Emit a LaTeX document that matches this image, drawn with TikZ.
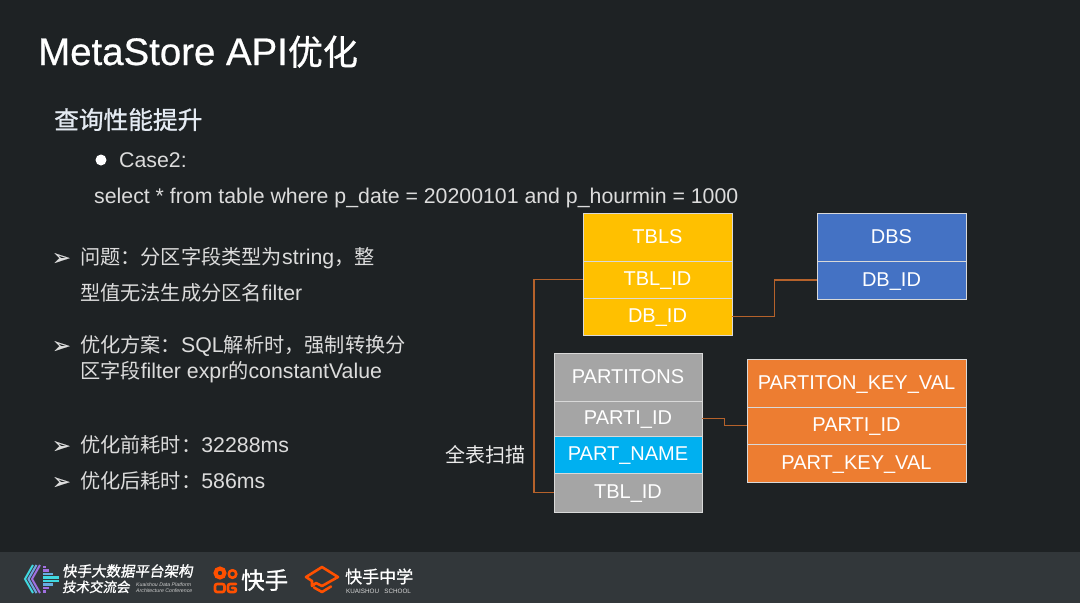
\documentclass[tikz,border=0pt]{standalone}
\usepackage{fontspec}
\setmainfont{Liberation Sans}
\newfontfamily\cjk{Noto Sans CJK SC}
\newfontfamily\cjkmid[FakeBold=1]{Noto Sans CJK SC}
\newfontfamily\logofont[FakeBold=1.2,FakeSlant=0.15]{Noto Sans CJK SC}
\newfontfamily\headfont[FakeBold=0.6]{Liberation Sans}
\newfontfamily\dingfont[FakeBold=0.6]{DejaVu Sans}
\newcommand\zh[1]{{\cjk\fontsize{20.2}{24}\selectfont #1}}
\usetikzlibrary{positioning,calc}
\definecolor{slidebg}{HTML}{1E2224}
\definecolor{footbg}{HTML}{32373A}
\definecolor{bodytxt}{HTML}{DCDCDC}
\definecolor{subtxt}{HTML}{E4EAF2}
\definecolor{linkcol}{HTML}{B5622B}
\definecolor{tblcol}{HTML}{FFC000}
\definecolor{dbcol}{HTML}{4472C4}
\definecolor{partcol}{HTML}{A5A5A5}
\definecolor{namecol}{HTML}{00B0F0}
\definecolor{keycol}{HTML}{ED7D31}
\definecolor{logoorange}{HTML}{FF5000}
\definecolor{kpurple}{HTML}{A070E0}
\definecolor{kcyan}{HTML}{40D8E0}
\begin{document}
\begin{tikzpicture}[x=1pt,y=-1pt,
    cell/.style={draw=white!85!black, line width=1pt, anchor=north west, outer sep=0pt, inner sep=0pt, align=center, text=white, text height=14pt, text depth=1.6pt, font=\fontsize{20}{20}\selectfont},
    txt/.style={anchor=base west, inner sep=0pt, text=bodytxt, font=\fontsize{21.3}{24}\selectfont},
    pointer/.style={anchor=base west, inner sep=0pt, text=bodytxt, font=\dingfont\fontsize{22}{22}\selectfont},
    link/.style={draw=linkcol, line width=1.2pt},
    logoline/.style={draw=logoorange, line width=2.6pt, line join=round, line cap=round}
]
\useasboundingbox (0,0) rectangle (1080,603);
\fill[slidebg] (0,0) rectangle (1080,603);
\fill[footbg] (0,552) rectangle (1080,603);

% heading
\node[anchor=base west, inner sep=0pt, text=white, font=\headfont\fontsize{38.4}{38}\selectfont] (title) at (38,65) {MetaStore API{\cjkmid\fontsize{35}{35}\selectfont 优化}};
\node[anchor=base west, inner sep=0pt, text=subtxt, font=\cjkmid\fontsize{24.7}{24.7}\selectfont] (sub) at (54,129) {查询性能提升};
\node[circle, fill=white, inner sep=0pt, minimum size=11pt] (dot) at (101,160) {};
\node[txt] (case) at (119,167) {Case2:};
\node[txt] (sql) at (94,203) {select * from table where p\_date = 20200101 and p\_hourmin = 1000};

% left list
\node[pointer] (b1) at (52,265) {➢};
\node[txt] (l1) at (80,264) {\zh{问题：分区字段类型为}string\zh{，整}};
\node[txt] (l2) at (80,300) {\zh{型值无法生成分区名}filter};
\node[pointer] (b2) at (52,353) {➢};
\node[txt] (l3) at (80,352) {\zh{优化方案：}SQL\zh{解析时，强制转换分}};
\node[txt] (l4) at (80,378) {\zh{区字段}filter expr\zh{的}constantValue};
\node[pointer] (b3) at (52,453) {➢};
\node[txt] (l5) at (80,452) {\zh{优化前耗时：}32288ms};
\node[pointer] (b4) at (52,489) {➢};
\node[txt] (l6) at (80,488) {\zh{优化后耗时：}586ms};

% TBLS
\node[cell, fill=tblcol, minimum width=149pt, minimum height=48pt] (tbls) at (583,213) {TBLS};
\node[cell, fill=tblcol, minimum width=149pt, minimum height=37pt] (tblid) at (tbls.south west) {TBL\_ID};
\node[cell, fill=tblcol, minimum width=149pt, minimum height=37pt] (dbid) at (tblid.south west) {DB\_ID};
% DBS
\node[cell, fill=dbcol, minimum width=149pt, minimum height=48pt] (dbs) at (817,213) {DBS};
\node[cell, fill=dbcol, minimum width=149pt, minimum height=38pt] (dbsid) at (dbs.south west) {DB\_ID};
% PARTITONS
\node[cell, fill=partcol, minimum width=148pt, minimum height=48pt] (parts) at (554,353) {PARTITONS};
\node[cell, fill=partcol, minimum width=148pt, minimum height=35pt] (partid) at (parts.south west) {PARTI\_ID};
\node[cell, fill=namecol, minimum width=148pt, minimum height=37pt] (pname) at (partid.south west) {PART\_NAME};
\node[cell, fill=partcol, minimum width=148pt, minimum height=39pt] (ptbl) at (pname.south west) {TBL\_ID};
% PARTITON_KEY_VAL
\node[cell, fill=keycol, minimum width=219pt, minimum height=48pt] (keyval) at (747,359) {PARTITON\_KEY\_VAL};
\node[cell, fill=keycol, minimum width=219pt, minimum height=37pt] (keyid) at (keyval.south west) {PARTI\_ID};
\node[cell, fill=keycol, minimum width=219pt, minimum height=38pt] (keypart) at (keyid.south west) {PART\_KEY\_VAL};

\node[anchor=base west, inner sep=0pt, text=white!92!black, font=\cjk\fontsize{20}{20}\selectfont] (scan) at (445,462) {全表扫描};

\draw[link] (tblid.west) -- ++(-49,0) |- (ptbl.west);
\draw[link] (dbid.east) -| ($(dbid.east)!0.5!(dbsid.west)$) |- (dbsid.west);
\draw[link] (partid.east) -| ($(partid.east)!0.5!(keyid.west)$) |- (keyid.west);

% footer, conference mark
\foreach \d/\c in {7/kpurple,3.5/kpurple!50!kcyan,0/kcyan}
  \draw[\c, line width=2pt] (33+\d,565) -- (25+\d,579) -- (33+\d,593);
\foreach \y/\w/\c in {567/3/kpurple,570.5/6/kpurple,574/10/kpurple!40!kcyan,577.5/16/kcyan,581/16/kcyan,584.5/10/kpurple!40!kcyan,588/6/kpurple,591.5/3/kpurple}
  \fill[\c] (43,\y-1.2) rectangle ++(\w,2.4);
\node[anchor=base west, inner sep=0pt, text=white, text depth=0pt, font=\logofont\fontsize{14.5}{14.5}\selectfont] (conf1) at (62,576.5) {快手大数据平台架构};
\node[anchor=base west, inner sep=0pt, text=white, font=\logofont\fontsize{13.5}{13.5}\selectfont] (conf2) at (62,592) {技术交流会};
\node[anchor=base west, inner sep=0pt, text=white!80!black, font=\fontsize{5.2}{6}\selectfont\itshape, align=left] (conf3) at (136,592.5) {Kuaishou Data Platform\\Architecture Conference};

% footer, camera mark
\draw[logoorange, line width=4pt] (220,573) circle (4.5);
\draw[logoline] (232.5,574) circle (3.8);
\draw[logoline, rounded corners=2pt] (215,584) rectangle (224.5,592);
\draw[logoline, rounded corners=2pt] (236,584) -- (228,584) -- (228,592) -- (236,592) -- (236,588) -- (232,588);
\node[anchor=base west, inner sep=0pt, text=white, font=\cjkmid\fontsize{23.5}{23.5}\selectfont] (ks) at (241,589) {快手};

% footer, school mark
\draw[logoline] (322,567) -- (338,577) -- (322,586) -- (316,583) -- (312,586) -- (312,581) -- (306,577) -- cycle;
\draw[logoline] (314,587.5) -- (322,592) -- (331,586.5);
\node[anchor=base west, inner sep=0pt, text=white, font=\cjkmid\fontsize{17}{17}\selectfont] (school) at (345,583) {快手中学};
\node[anchor=base west, inner sep=0pt, text=white!85!black, font=\fontsize{6.3}{6.3}\selectfont] (school2) at (346,593) {KUAISHOU\ \ \ SCHOOL};
\end{tikzpicture}
\end{document}
